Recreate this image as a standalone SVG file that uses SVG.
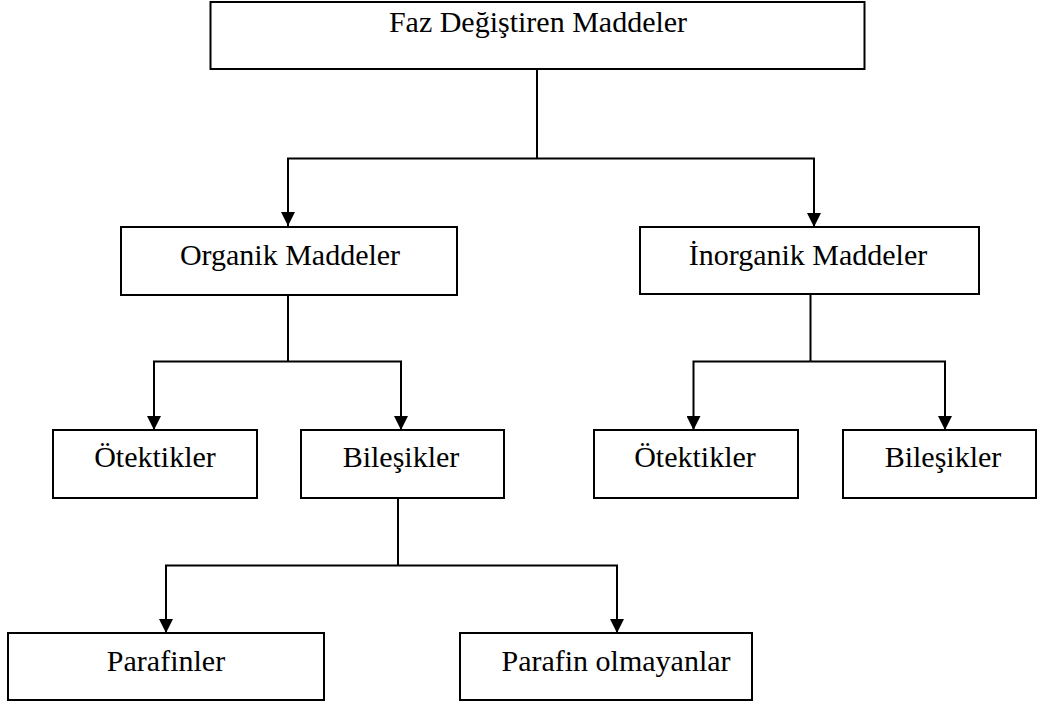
<svg xmlns="http://www.w3.org/2000/svg" width="1039" height="706" viewBox="0 0 1039 706">
<style>
.box{fill:#fff;stroke:#000;stroke-width:2}
.lbl{font-family:"Liberation Serif","Times New Roman",serif;font-size:30px;fill:#000;text-anchor:middle}
.con{fill:none;stroke:#000;stroke-width:2}
.arr{fill:none;stroke:#000;stroke-width:2;marker-end:url(#ah)}
</style>
<defs>
<marker id="ah" markerUnits="userSpaceOnUse" markerWidth="14" markerHeight="14" viewBox="0 0 14 14" refX="14" refY="7" orient="auto">
<path d="M0,0 L14,7 L0,14 z" fill="#000"/>
</marker>
</defs>
<rect width="1039" height="706" fill="#fff"/>
<g id="connectors">
<path class="con" d="M537,69 V158.5"/>
<path class="arr" d="M537,158.5 H288 V226"/>
<path class="arr" d="M537,158.5 H814 V227"/>
<path class="con" d="M288,295 V361.5"/>
<path class="arr" d="M288,361.5 H154 V430"/>
<path class="arr" d="M288,361.5 H401 V430"/>
<path class="con" d="M810.5,294 V361.5"/>
<path class="arr" d="M810.5,361.5 H693.5 V430"/>
<path class="arr" d="M810.5,361.5 H945 V430"/>
<path class="con" d="M398,498 V565.5"/>
<path class="arr" d="M398,565.5 H166 V633"/>
<path class="arr" d="M398,565.5 H617 V633"/>
</g>
<g id="faz">
<rect class="box" x="210.5" y="2" width="654" height="67"/>
<text class="lbl" x="538" y="31.5">Faz Değiştiren Maddeler</text>
</g>
<g id="organik">
<rect class="box" x="121" y="227" width="336" height="68"/>
<text class="lbl" x="290" y="265">Organik Maddeler</text>
</g>
<g id="inorganik">
<rect class="box" x="640" y="227" width="339" height="67"/>
<text class="lbl" x="808" y="265">İnorganik Maddeler</text>
</g>
<g id="otektikler-org">
<rect class="box" x="53" y="430" width="204" height="68"/>
<text class="lbl" x="155" y="467">Ötektikler</text>
</g>
<g id="bilesikler-org">
<rect class="box" x="301" y="430" width="203" height="68"/>
<text class="lbl" x="401" y="467">Bileşikler</text>
</g>
<g id="otektikler-inorg">
<rect class="box" x="594" y="430" width="204" height="68"/>
<text class="lbl" x="695" y="467">Ötektikler</text>
</g>
<g id="bilesikler-inorg">
<rect class="box" x="843" y="430" width="193" height="68"/>
<text class="lbl" x="943" y="467">Bileşikler</text>
</g>
<g id="parafinler">
<rect class="box" x="8" y="633" width="316" height="67"/>
<text class="lbl" x="166" y="671">Parafinler</text>
</g>
<g id="parafin-olmayanlar">
<rect class="box" x="460" y="633" width="292" height="67"/>
<text class="lbl" x="616" y="671">Parafin olmayanlar</text>
</g>
</svg>
